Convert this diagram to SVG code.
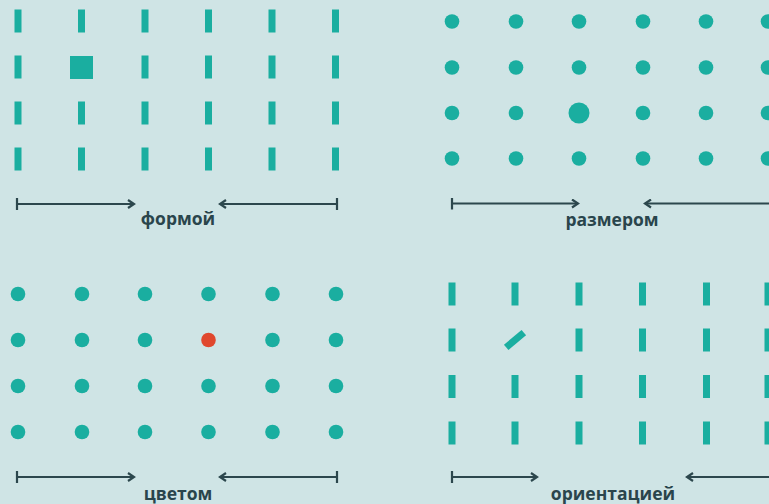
<svg xmlns="http://www.w3.org/2000/svg" width="769" height="504" viewBox="0 0 769 504">
<defs>
<style>
.bg{fill:#cfe4e5}
.m{fill:#1aaea0}
.r{fill:#e0472d}
.ln{stroke:#2c474d;stroke-width:2;fill:none}
.lbl{font-family:"Open Sans","Liberation Sans",sans-serif;font-weight:700;font-size:17.5px;fill:#2a454c;text-anchor:middle}
</style>
<rect id="bar" x="-3.5" y="-11.5" width="7" height="23"/>
<circle id="dot" r="7.3"/>
<marker id="ah" viewBox="0 0 10 10" refX="8" refY="5" markerWidth="10" markerHeight="10" markerUnits="userSpaceOnUse" orient="auto-start-reverse">
<path d="M2,1 L8,5 L2,9" fill="none" stroke="#2c474d" stroke-width="2.2"/>
</marker>
<marker id="tk" viewBox="0 0 4 12" refX="2" refY="6" markerWidth="4" markerHeight="12" markerUnits="userSpaceOnUse" orient="auto">
<path d="M2,0 L2,12" stroke="#2c474d" stroke-width="2.2"/>
</marker>
</defs>
<rect class="bg" width="769" height="504"/>

<g id="panel-shape" class="m">
<use href="#bar" x="18" y="21"/><use href="#bar" x="81.5" y="21"/><use href="#bar" x="145" y="21"/><use href="#bar" x="208.5" y="21"/><use href="#bar" x="272" y="21"/><use href="#bar" x="335.5" y="21"/>
<use href="#bar" x="18" y="67"/><rect x="70" y="56" width="23" height="23"/><use href="#bar" x="145" y="67"/><use href="#bar" x="208.5" y="67"/><use href="#bar" x="272" y="67"/><use href="#bar" x="335.5" y="67"/>
<use href="#bar" x="18" y="113"/><use href="#bar" x="81.5" y="113"/><use href="#bar" x="145" y="113"/><use href="#bar" x="208.5" y="113"/><use href="#bar" x="272" y="113"/><use href="#bar" x="335.5" y="113"/>
<use href="#bar" x="18" y="159"/><use href="#bar" x="81.5" y="159"/><use href="#bar" x="145" y="159"/><use href="#bar" x="208.5" y="159"/><use href="#bar" x="272" y="159"/><use href="#bar" x="335.5" y="159"/>
</g>

<g id="panel-size" class="m">
<use href="#dot" x="452" y="21.5"/><use href="#dot" x="516" y="21.5"/><use href="#dot" x="579" y="21.5"/><use href="#dot" x="643" y="21.5"/><use href="#dot" x="706" y="21.5"/><use href="#dot" x="768" y="21.5"/>
<use href="#dot" x="452" y="67.5"/><use href="#dot" x="516" y="67.5"/><use href="#dot" x="579" y="67.5"/><use href="#dot" x="643" y="67.5"/><use href="#dot" x="706" y="67.5"/><use href="#dot" x="768" y="67.5"/>
<use href="#dot" x="452" y="113"/><use href="#dot" x="516" y="113"/><circle cx="579" cy="113" r="10.5"/><use href="#dot" x="643" y="113"/><use href="#dot" x="706" y="113"/><use href="#dot" x="768" y="113"/>
<use href="#dot" x="452" y="158.5"/><use href="#dot" x="516" y="158.5"/><use href="#dot" x="579" y="158.5"/><use href="#dot" x="643" y="158.5"/><use href="#dot" x="706" y="158.5"/><use href="#dot" x="768" y="158.5"/>
</g>

<g id="panel-color" class="m">
<use href="#dot" x="18" y="294"/><use href="#dot" x="82" y="294"/><use href="#dot" x="145" y="294"/><use href="#dot" x="208.5" y="294"/><use href="#dot" x="272.5" y="294"/><use href="#dot" x="336" y="294"/>
<use href="#dot" x="18" y="340"/><use href="#dot" x="82" y="340"/><use href="#dot" x="145" y="340"/><use href="#dot" x="208.5" y="340" class="r"/><use href="#dot" x="272.5" y="340"/><use href="#dot" x="336" y="340"/>
<use href="#dot" x="18" y="386"/><use href="#dot" x="82" y="386"/><use href="#dot" x="145" y="386"/><use href="#dot" x="208.5" y="386"/><use href="#dot" x="272.5" y="386"/><use href="#dot" x="336" y="386"/>
<use href="#dot" x="18" y="432"/><use href="#dot" x="82" y="432"/><use href="#dot" x="145" y="432"/><use href="#dot" x="208.5" y="432"/><use href="#dot" x="272.5" y="432"/><use href="#dot" x="336" y="432"/>
</g>

<g id="panel-orientation" class="m">
<use href="#bar" x="452" y="294"/><use href="#bar" x="515" y="294"/><use href="#bar" x="579" y="294"/><use href="#bar" x="642.5" y="294"/><use href="#bar" x="706.5" y="294"/><use href="#bar" x="768" y="294"/>
<use href="#bar" x="452" y="340"/><use href="#bar" transform="translate(515 340) rotate(50)"/><use href="#bar" x="579" y="340"/><use href="#bar" x="642.5" y="340"/><use href="#bar" x="706.5" y="340"/><use href="#bar" x="768" y="340"/>
<use href="#bar" x="452" y="386.5"/><use href="#bar" x="515" y="386.5"/><use href="#bar" x="579" y="386.5"/><use href="#bar" x="642.5" y="386.5"/><use href="#bar" x="706.5" y="386.5"/><use href="#bar" x="768" y="386.5"/>
<use href="#bar" x="452" y="433"/><use href="#bar" x="515" y="433"/><use href="#bar" x="579" y="433"/><use href="#bar" x="642.5" y="433"/><use href="#bar" x="706.5" y="433"/><use href="#bar" x="768" y="433"/>
</g>

<g id="connectors" class="ln">
<path d="M17,204 H134" marker-start="url(#tk)" marker-end="url(#ah)"/>
<path d="M337,204 H220" marker-start="url(#tk)" marker-end="url(#ah)"/>
<path d="M452,203.5 H578" marker-start="url(#tk)" marker-end="url(#ah)"/>
<path d="M772,203.5 H645" marker-end="url(#ah)"/>
<path d="M17,477 H134" marker-start="url(#tk)" marker-end="url(#ah)"/>
<path d="M337,477 H220" marker-start="url(#tk)" marker-end="url(#ah)"/>
<path d="M452,477 H537" marker-start="url(#tk)" marker-end="url(#ah)"/>
<path d="M772,477 H687" marker-end="url(#ah)"/>
</g>

<g id="labels">
<text class="lbl" x="178" y="224.5">формой</text>
<text class="lbl" x="612" y="226">размером</text>
<text class="lbl" x="178" y="499.5">цветом</text>
<text class="lbl" x="613" y="499.5">ориентацией</text>
</g>
</svg>
